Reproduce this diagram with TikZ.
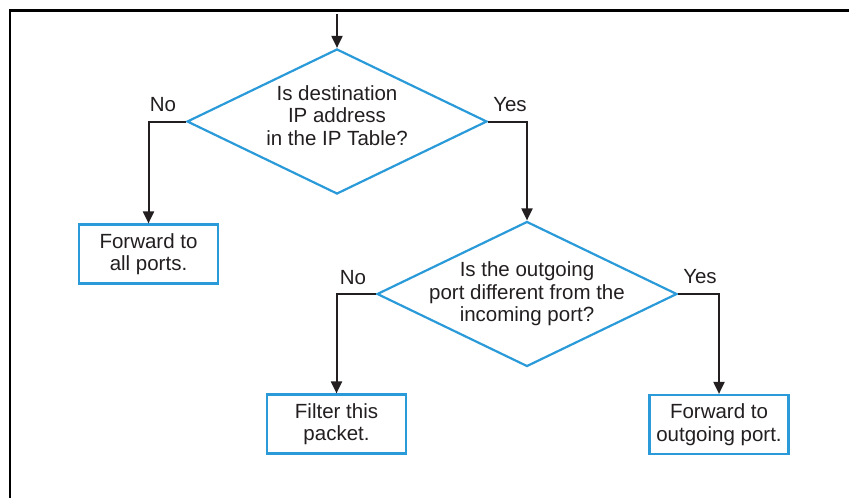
\documentclass[tikz,border=0pt]{standalone}
\usepackage{fontspec}
\setmainfont{Liberation Sans}
\usepackage{tikz}
\usetikzlibrary{shapes.geometric, arrows.meta}
\definecolor{flowblue}{HTML}{2A9AD8}
\definecolor{ink}{HTML}{231F20}

\begin{document}
\begin{tikzpicture}[
  x=1pt, y=-1pt,
  every node/.style={font=\fontsize{20.5}{22.5}\selectfont, text=ink},
  decision/.style={draw=flowblue, line width=2.2pt, shape=diamond, minimum width=300pt, minimum height=145pt, inner sep=0pt},
  question/.style={align=center},
  box/.style={draw=flowblue, line width=2.2pt, fill=white, minimum width=139pt, minimum height=59pt, align=center, inner sep=2pt},
  arr/.style={-{Triangle[length=12pt, width=11pt]}, line width=2pt, ink},
]
\useasboundingbox (0,0) rectangle (849,498);

% Frame
\draw[line width=2.6pt, black] (852,10.5) -| (10,501);

% First decision
\coordinate (entry) at (337,14);
\node[decision, label={[question, yshift=6pt]center:Is destination\\IP address\\in the IP Table?}] (q1) at (337,121.5) {};
\node[box] (fwdall) at (148.5,254) {Forward to\\all ports.};
\node (no1) at (163,105) {No};
\node (yes1) at (510,105) {Yes};

% Second decision
\node[decision, label={[question]center:Is the outgoing\\port different from the\\incoming port?}] (q2) at (527,294) {};
\node[box] (filter) at (336.5,424) {Filter this\\packet.};
\node[box] (fwdout) at (719,424.5) {Forward to\\outgoing port.};
\node (no2) at (353,278) {No};
\node (yes2) at (700,277) {Yes};

% Arrows
\draw[arr] (entry) -- (q1.north);
\draw[arr] (q1.west) -| (fwdall.north);
\draw[arr] (q1.east) -| (q2.north);
\draw[arr] (q2.west) -| (filter.north);
\draw[arr] (q2.east) -| (fwdout.north);

\end{tikzpicture}
\end{document}
